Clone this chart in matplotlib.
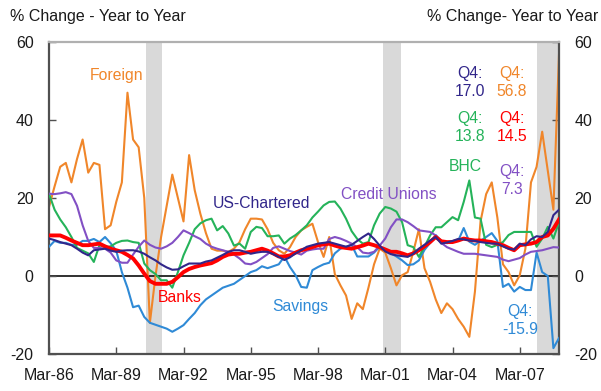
import numpy as np
import matplotlib
matplotlib.use("Agg")
import matplotlib.pyplot as plt

plt.rcParams['font.family'] = ['Liberation Sans', 'DejaVu Sans']
plt.rcParams['axes.unicode_minus'] = False

# Quarterly year-over-year % change, Mar-86 .. Dec-08
foreign = [17.7, 23, 28, 29, 24, 30, 35, 26.5, 29, 28.5, 12, 13, 19, 24, 47, 35,
           33, 20, -12, 0, 10, 18, 26, 20, 14, 31, 22, 16, 11, 7, 6.5, 6.5,
           6.2, 7, 8.7, 12, 14.7, 14.7, 14.5, 12, 8.5, 6.6, 5.7, 7.4, 10, 11.7,
           12.6, 13.4, 8.7, 4.9, 10, 0.5, -2.4, -5, -11, -7, -8.5, -3, 3, 7, 6, 2,
           -2.4, 0.2, 1, 6.2, 12, 2, -1.5, -6, -9.5, -7, -8.5, -11, -13, -15.6, -4, 14,
           21, 24, 15, 3, 1, -2.4, 0.2, 7, 24, 28, 37, 27, 17, 56.8]

savings = [7.5, 9, 8.5, 8.5, 8, 8, 9, 9, 9.5, 8.7, 10, 8.4, 6.5, 1, -3, -8,
           -7.6, -10.5, -12, -12.5, -13, -13.5, -14.3, -13.5, -12.6, -11, -9.5, -7.5, -6, -5, -4, -3,
           -2.5, -2, -1, 0, 1, 1.5, 2.5, 2, 2.5, 3, 5, 2.3, 0.2, -2.8, -3, 1.5,
           2.3, 3, 3.4, 5.8, 7, 7.5, 8, 5, 5, 5, 6, 7.5, 6.5, 5.8, 5, 4,
           2.8, 3, 4, 6.7, 8.5, 10.5, 9, 8.4, 8.8, 9, 12.3, 8.8, 8, 9, 10, 11,
           9, -2.8, -2, -4, -2.8, -3.6, -3.6, 6, 1, 0, -18.5, -15.9]

banks = [10.4, 10.4, 10.4, 9.8, 9.1, 8.5, 7.9, 7.9, 8.1, 8.3, 7.6, 7.0, 6.6, 6.2, 5.4, 4.5,
         2.7, 0.6, -1.3, -2, -2, -2, -1.5, -0.3, 1.0, 1.8, 2.3, 2.7, 3.0, 3.3, 4.0, 4.9,
         5.5, 5.7, 5.7, 6.0, 6.2, 6.6, 7.0, 6.5, 5.8, 5.0, 5.0, 5.3, 6.0, 6.6, 7.0, 7.4,
         7.9, 8.1, 8.3, 7.8, 7.4, 7.2, 7.0, 7.4, 7.8, 8.3, 7.9, 7.4, 6.8, 6.2, 6.2, 5.8,
         5.3, 5.8, 6.6, 7.6, 8.7, 10, 8.9, 8.7, 8.7, 9.1, 9.6, 9.3, 9.1, 9.1, 8.9, 8.7,
         8.3, 7.9, 7.2, 6.6, 7.9, 8.1, 8.3, 8.7, 10, 10.4, 12.1, 14.5]

us_chartered = [9.6, 9.2, 8.7, 8.3, 7.9, 7.0, 6.0, 5.3, 6.6, 6.8, 7.0, 6.5, 6.2, 6.5, 6.6, 6.6,
                6.3, 5.7, 4.8, 4.0, 3.0, 2.2, 1.6, 1.7, 2.5, 3.2, 3.2, 3.2, 3.7, 4.0, 4.7, 5.4,
                6.2, 6.6, 6.6, 6.2, 5.7, 6.0, 6.2, 6.2, 5.6, 4.9, 4.1, 4.8, 5.8, 6.6, 7.5, 7.9,
                8.3, 8.5, 8.7, 8.3, 7.9, 7.5, 8.0, 9.0, 10.0, 10.9, 9.5, 7.8, 6.3, 5.6, 5.3, 5.1,
                4.9, 5.7, 7.0, 8.0, 9.1, 10, 8.3, 8.6, 9.0, 9.5, 9.4, 9.1, 9.0, 8.7, 8.5, 8.3,
                8.3, 7.6, 7.0, 6.8, 8.3, 7.9, 9.4, 10.2, 10.0, 11.3, 15.6, 17.0]

credit_unions = [21.1, 21, 21.2, 21.5, 21.0, 18, 13, 9, 7.2, 7.2, 7.0, 6.0, 4.0, 3.4, 3.4, 5.5,
                 7.5, 9.1, 8.0, 7.3, 7.0, 7.6, 8.5, 10.0, 11.7, 11.0, 10.2, 9.5, 8.3, 7.5, 7.0, 6.6,
                 6.2, 5.5, 4.5, 3.2, 3.0, 3.6, 4.6, 5.6, 7.2, 7.6, 7.0, 6.4, 6.0, 5.5, 6.5, 6.8,
                 7.0, 7.0, 9.5, 10.0, 9.6, 9.0, 8.3, 7.4, 6.0, 5.8, 6.2, 7.8, 9.6, 12.5, 14.5, 14.5,
                 13.8, 12.8, 11.7, 11.5, 11.3, 10.4, 8.5, 7.4, 6.8, 6.2, 5.7, 5.7, 5.7, 5.5, 5.3, 5.1,
                 4.9, 4.2, 3.8, 4.2, 4.6, 5.5, 6.2, 6.4, 6.6, 7.0, 7.4, 7.3]

bhc = [21.1, 17, 14.5, 12.5, 10, 7.2, 6.5, 5.8, 3.6, 7.9, 7.4, 7.6, 8.5, 9.0, 9.1, 8.7,
       8.5, 3.2, 1.5, 0.5, -1.1, -1.1, -3.0, 1.0, 5.3, 8.5, 12, 13.5, 14.3, 14.7, 11.7, 12.8,
       10.9, 7.8, 8.3, 7.0, 11.3, 12.6, 12.3, 10.2, 10.2, 10.4, 8.3, 9.6, 10.5, 11.7, 13, 15,
       16.5, 18.1, 19.0, 19.1, 17.3, 14.7, 11.5, 9.5, 8.3, 8.7, 13, 16, 17.7, 17.3, 16.5, 13.8,
       7.9, 7.4, 4.9, 7.5, 10.4, 12.5, 12.5, 13.8, 15.1, 14.3, 19, 24.5, 15, 14.7, 8, 7.4,
       8.0, 8.7, 10.5, 11.3, 11.3, 11.3, 11.3, 7.5, 9.6, 12.6, 9.6, 13.8]

tick_labels = ["Mar-86", "Mar-89", "Mar-92", "Mar-95", "Mar-98", "Mar-01", "Mar-04", "Mar-07"]
# recession periods, in quarters since Mar-86
recessions = [(17.3, 20.2), (59.6, 62.8), (87.1, 91)]

c_foreign = "#F0862A"
c_savings = "#2F8AD6"
c_banks = "#FF0000"
c_us = "#31268A"
c_cu = "#8250C4"
c_bhc = "#25B35A"

fig = plt.figure(figsize=(6.01, 3.91), dpi=100)
ax = fig.add_axes([49/601, 1 - 354/391, (559 - 49)/601, (354 - 42)/391])

q = np.arange(len(foreign))

for a, b in recessions:
    ax.axvspan(a, b, color="#D9D9D9", lw=0, zorder=0)
ax.axhline(0, color="#202020", lw=1.3, zorder=1)

ax.plot(q, foreign, color=c_foreign, lw=1.5, zorder=2)
ax.plot(q, savings, color=c_savings, lw=1.5, zorder=3)
ax.plot(q, bhc, color=c_bhc, lw=1.5, zorder=4)
ax.plot(q, credit_unions, color=c_cu, lw=1.5, zorder=5)
ax.plot(q, banks, color=c_banks, lw=2.8, zorder=6)
ax.plot(q, us_chartered, color=c_us, lw=1.5, zorder=7)

ax.set_xlim(0, len(foreign) - 1)
ax.set_ylim(-20, 60)
ax.set_xticks(np.arange(0, len(foreign), 12))
ax.set_xticklabels(tick_labels)
ax.set_yticks([-20, 0, 20, 40, 60])
ax.tick_params(axis="both", direction="in", length=5, width=1, color="#505050",
               labelsize=11.5, labelcolor="#1A1A1A")
ax.tick_params(axis="x", pad=10)
ax.tick_params(axis="y", pad=11, right=True, labelright=True)

for side in ("left", "bottom", "right"):
    ax.spines[side].set_color("#505050")
    ax.spines[side].set_linewidth(1.6)
ax.spines["top"].set_color("#B0B0B0")
ax.spines["top"].set_linewidth(1.6)

fs = 11.3
ax.text(12, 51.3, "Foreign", color=c_foreign, fontsize=fs, ha="center", va="center")
ax.text(38, 18.7, "US-Chartered", color=c_us, fontsize=fs, ha="center", va="center")
ax.text(23.4, -5.6, "Banks", color=c_banks, fontsize=fs, ha="center", va="center")
ax.text(44.8, -7.7, "Savings", color=c_savings, fontsize=fs, ha="center", va="center")
ax.text(60.7, 21, "Credit Unions", color=c_cu, fontsize=fs, ha="center", va="center")
ax.text(74.2, 28, "BHC", color=c_bhc, fontsize=fs, ha="center", va="center")

ann = dict(fontsize=fs, ha="center", va="center", multialignment="center", linespacing=1.25)
ax.text(75.1, 49.5, f"Q4:\n{us_chartered[-1]:.1f}", color=c_us, **ann)
ax.text(82.6, 49.5, f"Q4:\n{foreign[-1]:.1f}", color=c_foreign, **ann)
ax.text(75.1, 38.2, f"Q4:\n{bhc[-1]:.1f}", color=c_bhc, **ann)
ax.text(82.6, 38.2, f"Q4:\n{banks[-1]:.1f}", color=c_banks, **ann)
ax.text(82.6, 24.4, f"Q4:\n{credit_unions[-1]:.1f}", color=c_cu, **ann)
ax.text(84.0, -11.3, f"Q4:\n{savings[-1]:.1f}", color=c_savings, **ann)

fig.text(10/601, 1 - 17/391, "% Change - Year to Year", fontsize=11.5,
         ha="left", va="center", color="#1A1A1A")
fig.text(598/601, 1 - 17/391, "% Change- Year to Year", fontsize=11.5,
         ha="right", va="center", color="#1A1A1A")

fig.savefig("out.png", dpi=100)
